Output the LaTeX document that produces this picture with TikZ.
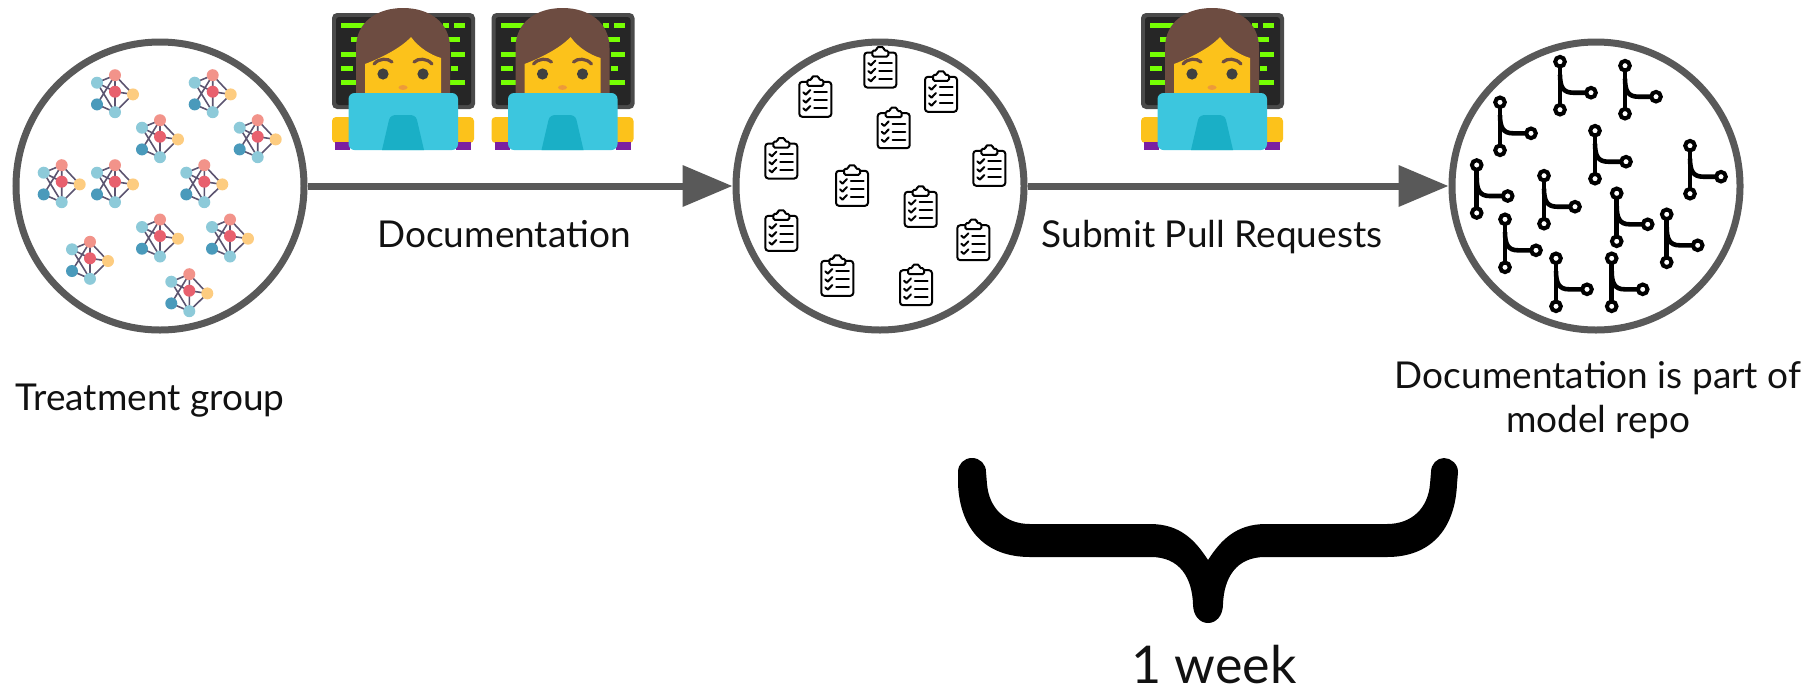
\documentclass[tikz,border=0pt]{standalone}
\usepackage{fontspec}
\setmainfont{Lato}
\usetikzlibrary{arrows.meta}

\definecolor{ringgray}{HTML}{595959}
\definecolor{inkblack}{HTML}{111111}
\definecolor{nlight}{HTML}{8DCAD9}
\definecolor{nsalmon}{HTML}{F2938A}
\definecolor{nred}{HTML}{E8606E}
\definecolor{nyellow}{HTML}{FDCC80}
\definecolor{ndark}{HTML}{4A9ABB}
\definecolor{nedge}{HTML}{5C5470}
\definecolor{scrEdge}{HTML}{4A4A4A}
\definecolor{scrDark}{HTML}{262626}
\definecolor{codeGreen}{HTML}{76FF03}
\definecolor{hairBrown}{HTML}{6D4C41}
\definecolor{skin}{HTML}{FCC21B}
\definecolor{eyeDark}{HTML}{404040}
\definecolor{mouthOrange}{HTML}{ED9A3A}
\definecolor{lapTop}{HTML}{3CC6DE}
\definecolor{lapStand}{HTML}{1AAFC6}
\definecolor{sleeve}{HTML}{7B1FA2}

\tikzset{
  ring/.style={circle, draw=ringgray, line width=7pt, minimum size=288pt, inner sep=0pt},
  flow/.style={draw=ringgray, line width=7pt, -{Triangle[length=50pt,width=40pt]}},
  lbl/.style={inner sep=0pt, text=inkblack, font=\fontsize{37}{44}\selectfont, anchor=base},
  % small network graph, origin at the red centre node
  pics/netgraph/.style={code={
    \draw[nedge, line width=1.6pt, line cap=round]
      (-18,-9) -- (0,-16.5) (-18,-9) -- (0,0) (-18,-9) -- (0,20.5)
      (0,-16.5) -- (18,2.7) (0,-16.5) -- (-18,12.7) (0,-16.5) -- (0,0)
      (0,0) -- (18,2.7) (0,0) -- (0,20.5) (18,2.7) -- (0,20.5)
      (-18,12.7) -- (0,20.5);
    \fill[nlight]  (-18,-9)   circle (6);
    \fill[nsalmon] (0,-16.5)  circle (6);
    \fill[nred]    (0,0)      circle (6);
    \fill[nyellow] (18,2.7)   circle (6);
    \fill[ndark]   (-18,12.7) circle (6);
    \fill[nlight]  (0,20.5)   circle (6);
  }},
  % checklist clipboard, origin at the board centre
  pics/clipboard/.style={code={
    \draw[black, line width=2pt, rounded corners=3pt, fill=white] (-16,-17.5) rectangle (16,17.5);
    \draw[black, line width=2pt, fill=white, rounded corners=1.5pt]
      (-8,-13.5) -- (-8,-19.5) -- (-3.5,-19.5) -- (-3.5,-23) -- (3.5,-23) -- (3.5,-19.5) -- (8,-19.5) -- (8,-13.5) -- cycle;
    \foreach \yy in {-7,1,9}{
      \draw[black, line width=2pt, line cap=round, line join=round]
        (-12,\yy) -- (-9.5,\yy+2.3) -- (-5,\yy-2.3);
      \draw[black, line width=2.2pt, line cap=round] (-1,\yy) -- (11.5,\yy);
    }
  }},
  % git branch glyph, origin at the top ring
  pics/branch/.style={code={
    \draw[black, line width=4.6pt] (0,0) -- (0,48);
    \draw[black, line width=4.6pt] (0,13) .. controls (0,25) and (3,31) .. (13,31) -- (31,31);
    \draw[black, line width=4pt, fill=white] (0,0) circle (4.8) (0,48) circle (4.8) (31,31) circle (4.8);
  }},
  % person at a laptop, origin at the top centre of the monitor
  pics/coder/.style={code={
    \fill[scrEdge, rounded corners=5pt] (-71,13) rectangle (72,109);
    \fill[scrDark, rounded corners=3pt] (-67,17) rectangle (68,105);
    \foreach \yy/\xa/\xb in {25/-62/-38, 39.5/-52/-38, 54/-62/-38, 68/-62/-50, 82/-62/-38,
                             25/40/46, 25/51/62, 39.5/45/57, 54/48/62, 68/48/55, 82/46/62}
      \fill[codeGreen] (\xa,\yy-2.5) rectangle (\xb,\yy+2.5);
    \fill[hairBrown] (-47,108) -- (-47,48) .. controls (-47,22) and (-26,8) .. (0,8)
      .. controls (26,8) and (47,22) .. (47,48) -- (47,108) -- cycle;
    \fill[skin] (-38,104) -- (-38,64) .. controls (-22,58) and (-2,48) .. (8,37)
      .. controls (16,48) and (28,55) .. (38,58) -- (38,104) -- cycle;
    \draw[hairBrown, line width=3.2pt, line cap=round] (-29,64) .. controls (-24,58) and (-15,58) .. (-11,62);
    \draw[hairBrown, line width=3.2pt, line cap=round] (29,64) .. controls (24,58) and (15,58) .. (11,62);
    \fill[eyeDark] (-20,74) circle (5.6) (20,74) circle (5.6);
    \fill[mouthOrange] (0,87.5) ellipse (4.5 and 2.4);
    \fill[skin, rounded corners=4pt] (-71,117) rectangle (-51,143);
    \fill[skin, rounded corners=4pt] (51,117) rectangle (71,143);
    \fill[sleeve] (-68,142) rectangle (-53,150);
    \fill[sleeve] (53,142) rectangle (68,150);
    \fill[lapTop, rounded corners=6pt] (-54.5,150) -- (-54.5,93) -- (55,93) -- (55,150) -- cycle;
    \fill[lapStand] (-21,150) -- (-14,120) .. controls (-13,116) and (-10,115) .. (-6,115)
      -- (6,115) .. controls (10,115) and (13,116) .. (14,120) -- (21,150) -- cycle;
  }}
}

\begin{document}
\begin{tikzpicture}[x=1pt, y=-1pt]
  \useasboundingbox (0,0) rectangle (1806,689);

  % the three stages
  \node[ring] (c1) at (160,186) {};
  \node[ring] (c2) at (880,186) {};
  \node[ring] (c3) at (1596,186) {};

  \draw[flow] (c1.east) -- (c2.west);
  \draw[flow] (c2.east) -- (c3.west);

  % models in the treatment group
  \foreach \px/\py in {115/91.7, 212.7/91.7, 160/136.7, 257.7/136.7, 61.7/181.7,
                       115/181.7, 204.3/181.7, 160/236, 230/236, 90/258.3, 189.3/290.7}
    \pic at (\px,\py) {netgraph};

  % documentation cards
  \foreach \px/\py in {815.3/99.3, 880.3/70, 941/94.3, 893.7/130.7, 781.3/161, 989.3/168.3,
                       852/188.3, 920.7/209.3, 781.3/233.3, 973.3/242.7, 837.3/278.3, 916/287.7}
    \pic at (\px,\py) {clipboard};

  % pull requests
  \foreach \px/\py in {1560/61.7, 1625/65.7, 1500/102.3, 1595/130.7, 1690/145.7, 1476.7/165,
                       1544/175.7, 1616.7/193.3, 1666.7/214.3, 1505/219.3, 1556/258.3, 1611.7/258.3}
    \pic at (\px,\py) {branch};

  % people writing
  \pic at (403,0) {coder};
  \pic at (562.5,0) {coder};
  \pic at (1212,0) {coder};

  % labels
  \node[lbl] (tdoc) at (504,247) {Documentation};
  \node[lbl] (tpr) at (1212,247) {Submit Pull Requests};
  \node[lbl] (tgrp) at (150,410) {Treatment group};
  \node[lbl] (trepo1) at (1598,388) {Documentation is part of};
  \node[lbl] (trepo2) at (1598,432) {model repo};

  % one-week brace
  \fill[black] (958,472) .. controls (958,464) and (964,458) .. (972,458)
    .. controls (980,458) and (986,464) .. (986,472)
    -- (987,484) .. controls (989,508) and (1005,524) .. (1030,524)
    -- (1150,524) .. controls (1180,524) and (1195,540) .. (1208,560)
    .. controls (1221,540) and (1236,524) .. (1266,524)
    -- (1387,524) .. controls (1412,524) and (1428,508) .. (1430,484)
    -- (1431,472) .. controls (1431,464) and (1437,458) .. (1444,458)
    .. controls (1451,458) and (1458,464) .. (1458,472)
    -- (1457,484) .. controls (1455,530) and (1430,557) .. (1387,557)
    -- (1265,557) .. controls (1236,557) and (1224,578) .. (1223,604)
    .. controls (1223,616) and (1216,623) .. (1208,623)
    .. controls (1200,623) and (1193,616) .. (1193,604)
    .. controls (1192,578) and (1180,557) .. (1151,557)
    -- (1030,557) .. controls (986,557) and (960,530) .. (958,484) -- cycle;
  \node[lbl, font=\fontsize{52}{58}\selectfont, text depth=0pt] (tweek) at (1214,683) {1 week};
\end{tikzpicture}
\end{document}
